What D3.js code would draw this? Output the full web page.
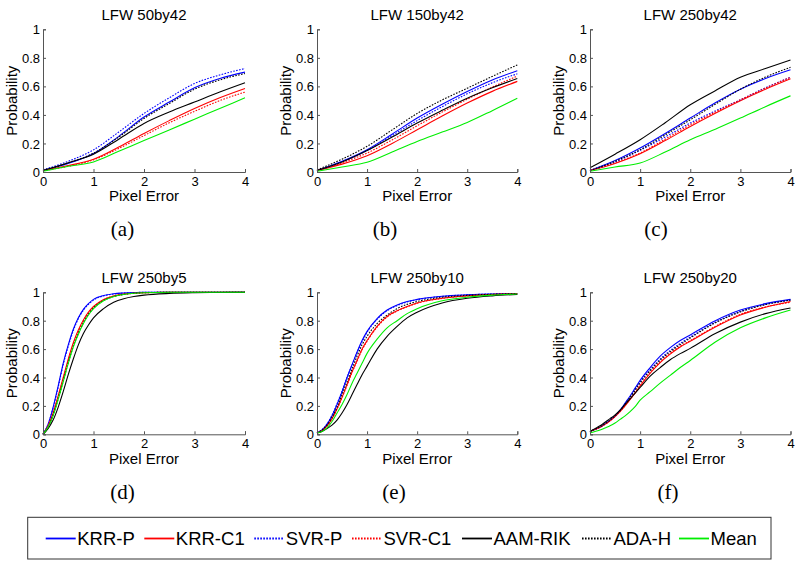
<!DOCTYPE html>
<html>
<head>
<meta charset="utf-8">
<script src="https://cdn.jsdelivr.net/npm/d3@7"></script>
<style>
  html, body { margin: 0; padding: 0; background: #fff; }
  svg { display: block; font-family: "Liberation Sans", Arial, sans-serif; }
</style>
</head>
<body>
<svg id="chart" width="800" height="566"></svg>
<script>
// ---------------- DATA ----------------
const seriesNames  = ["KRR-P", "KRR-C1", "SVR-P", "SVR-C1", "AAM-RIK", "ADA-H", "Mean"];
const seriesColors = ["#0000ff", "#ff0000", "#0000ff", "#ff0000", "#000000", "#000000", "#00ee00"];
const seriesDotted = [false, false, true, true, false, true, false];

const panelTitles = ["LFW 50by42", "LFW 150by42", "LFW 250by42", "LFW 250by5", "LFW 250by10", "LFW 250by20"];
const panelTags   = ["(a)", "(b)", "(c)", "(d)", "(e)", "(f)"];

const xTicks = [0, 1, 2, 3, 4];
const yTicks = [0, 0.2, 0.4, 0.6, 0.8, 1];
const yTickLabels = ["0", "0.2", "0.4", "0.6", "0.8", "1"];

// pixel-error sample points
const xTop    = [0, 0.5, 1, 1.5, 2, 2.5, 3, 3.5, 4];
const xBottom = [0, 0.1, 0.2, 0.3, 0.4, 0.5, 0.6, 0.7, 0.8, 0.9, 1.0, 1.2, 1.4, 1.6, 1.8, 2.0, 2.5, 3, 3.5, 4];

// rows follow seriesNames order
const valsA = [
  [0.01, 0.06, 0.13, 0.25, 0.385, 0.49, 0.59, 0.655, 0.70],
  [0.01, 0.045, 0.09, 0.175, 0.27, 0.36, 0.445, 0.52, 0.585],
  [0.015, 0.075, 0.155, 0.28, 0.41, 0.52, 0.62, 0.68, 0.725],
  [0.01, 0.04, 0.085, 0.165, 0.255, 0.345, 0.425, 0.50, 0.56],
  [0.01, 0.065, 0.125, 0.23, 0.34, 0.42, 0.49, 0.56, 0.625],
  [0.012, 0.063, 0.132, 0.245, 0.375, 0.48, 0.58, 0.645, 0.69],
  [0.005, 0.04, 0.07, 0.145, 0.22, 0.295, 0.37, 0.445, 0.52]
];
const valsB = [
  [0.01, 0.075, 0.156, 0.265, 0.378, 0.475, 0.564, 0.645, 0.71],
  [0.01, 0.055, 0.114, 0.2, 0.296, 0.392, 0.483, 0.565, 0.635],
  [0.01, 0.07, 0.15, 0.255, 0.36, 0.458, 0.548, 0.625, 0.688],
  [0.01, 0.065, 0.133, 0.225, 0.324, 0.42, 0.51, 0.595, 0.672],
  [0.01, 0.07, 0.15, 0.245, 0.343, 0.432, 0.517, 0.59, 0.655],
  [0.015, 0.09, 0.18, 0.295, 0.41, 0.505, 0.587, 0.67, 0.75],
  [0.005, 0.035, 0.068, 0.14, 0.214, 0.28, 0.347, 0.43, 0.517]
];
const valsC = [
  [0.01, 0.08, 0.168, 0.27, 0.378, 0.485, 0.58, 0.655, 0.716],
  [0.01, 0.06, 0.128, 0.22, 0.319, 0.412, 0.5, 0.58, 0.653],
  [0.01, 0.07, 0.152, 0.245, 0.343, 0.428, 0.506, 0.59, 0.664],
  [0.01, 0.065, 0.133, 0.23, 0.331, 0.42, 0.506, 0.588, 0.664],
  [0.03, 0.125, 0.226, 0.345, 0.471, 0.57, 0.664, 0.725, 0.785],
  [0.01, 0.075, 0.156, 0.26, 0.366, 0.475, 0.58, 0.665, 0.734],
  [0.005, 0.035, 0.063, 0.14, 0.226, 0.3, 0.378, 0.458, 0.534]
];
const valsD = [
  [0, 0.07, 0.19, 0.34, 0.5, 0.63, 0.74, 0.82, 0.88, 0.92, 0.95, 0.977, 0.99, 0.995, 0.998, 1, 1, 1, 1, 1],
  [0, 0.06, 0.15, 0.27, 0.4, 0.53, 0.645, 0.735, 0.805, 0.86, 0.9, 0.95, 0.975, 0.988, 0.994, 0.997, 1, 1, 1, 1],
  [0, 0.07, 0.185, 0.33, 0.49, 0.62, 0.73, 0.815, 0.875, 0.915, 0.945, 0.975, 0.988, 0.995, 0.998, 1, 1, 1, 1, 1],
  [0, 0.06, 0.15, 0.265, 0.39, 0.52, 0.635, 0.725, 0.8, 0.855, 0.895, 0.947, 0.973, 0.987, 0.993, 0.997, 1, 1, 1, 1],
  [0, 0.04, 0.1, 0.19, 0.3, 0.42, 0.53, 0.63, 0.71, 0.77, 0.82, 0.885, 0.93, 0.955, 0.97, 0.98, 0.992, 0.997, 0.999, 1],
  [0, 0.05, 0.135, 0.25, 0.375, 0.505, 0.62, 0.71, 0.785, 0.845, 0.888, 0.942, 0.97, 0.985, 0.993, 0.997, 1, 1, 1, 1],
  [0, 0.05, 0.13, 0.245, 0.37, 0.5, 0.615, 0.705, 0.78, 0.84, 0.885, 0.94, 0.97, 0.985, 0.993, 0.997, 1, 1, 1, 1]
];
const valsE = [
  [0.01, 0.03, 0.07, 0.13, 0.21, 0.3, 0.4, 0.49, 0.58, 0.66, 0.725, 0.815, 0.875, 0.91, 0.935, 0.95, 0.972, 0.982, 0.988, 0.99],
  [0.01, 0.025, 0.06, 0.11, 0.18, 0.26, 0.35, 0.44, 0.52, 0.6, 0.66, 0.76, 0.83, 0.87, 0.9, 0.925, 0.958, 0.975, 0.985, 0.99],
  [0.01, 0.032, 0.073, 0.135, 0.215, 0.305, 0.4, 0.488, 0.575, 0.652, 0.718, 0.81, 0.87, 0.906, 0.932, 0.948, 0.971, 0.982, 0.988, 0.99],
  [0.01, 0.025, 0.058, 0.108, 0.177, 0.257, 0.345, 0.435, 0.515, 0.595, 0.655, 0.755, 0.826, 0.868, 0.898, 0.923, 0.957, 0.975, 0.985, 0.99],
  [0.01, 0.02, 0.04, 0.065, 0.1, 0.15, 0.21, 0.28, 0.35, 0.42, 0.48, 0.6, 0.69, 0.76, 0.82, 0.86, 0.925, 0.958, 0.975, 0.985],
  [0.01, 0.03, 0.065, 0.12, 0.19, 0.28, 0.37, 0.46, 0.55, 0.63, 0.69, 0.78, 0.84, 0.885, 0.915, 0.935, 0.965, 0.978, 0.986, 0.99],
  [0.01, 0.02, 0.045, 0.09, 0.15, 0.21, 0.28, 0.36, 0.43, 0.5, 0.57, 0.67, 0.75, 0.8, 0.85, 0.885, 0.94, 0.965, 0.98, 0.988]
];
const valsF = [
  [0.02, 0.035, 0.05, 0.075, 0.1, 0.13, 0.17, 0.22, 0.27, 0.325, 0.38, 0.47, 0.55, 0.61, 0.66, 0.70, 0.80, 0.875, 0.92, 0.95],
  [0.02, 0.035, 0.05, 0.07, 0.095, 0.125, 0.16, 0.2, 0.245, 0.29, 0.34, 0.43, 0.505, 0.565, 0.615, 0.655, 0.755, 0.84, 0.895, 0.935],
  [0.02, 0.035, 0.05, 0.073, 0.098, 0.128, 0.166, 0.214, 0.263, 0.316, 0.37, 0.455, 0.53, 0.59, 0.64, 0.685, 0.79, 0.865, 0.915, 0.945],
  [0.02, 0.035, 0.05, 0.07, 0.095, 0.126, 0.162, 0.203, 0.248, 0.294, 0.345, 0.435, 0.51, 0.57, 0.62, 0.66, 0.76, 0.845, 0.897, 0.93],
  [0.02, 0.04, 0.06, 0.085, 0.11, 0.137, 0.17, 0.21, 0.25, 0.29, 0.33, 0.41, 0.47, 0.525, 0.568, 0.605, 0.71, 0.79, 0.85, 0.89],
  [0.02, 0.036, 0.052, 0.075, 0.1, 0.13, 0.167, 0.212, 0.26, 0.31, 0.362, 0.448, 0.522, 0.582, 0.632, 0.678, 0.785, 0.862, 0.913, 0.945],
  [0.01, 0.02, 0.03, 0.045, 0.06, 0.08, 0.105, 0.13, 0.16, 0.195, 0.24, 0.3, 0.36, 0.415, 0.47, 0.52, 0.65, 0.75, 0.82, 0.875]
];

const panelValues = [valsA, valsB, valsC, valsD, valsE, valsF];
const panelXs = [xTop, xTop, xTop, xBottom, xBottom, xBottom];

// ---------------- LAYOUT ----------------
const colLeft  = [43, 317, 590];
const colRight = [245, 517.3, 790.5];
const rowTop    = [29.3, 292.3];
const rowBottom = [172, 434.3];
const tagX = [[122.5, 385, 656], [122.5, 394, 668]];
const tagY = [230, 493];

const svg = d3.select("#chart");
const AXIS_COLOR = "#555";

panelTitles.forEach((title, i) => {
  const r = Math.floor(i / 3), c = i % 3;
  const x = d3.scaleLinear().domain([0, 4]).range([colLeft[c], colRight[c]]);
  const y = d3.scaleLinear().domain([0, 1]).range([rowBottom[r], rowTop[r]]);
  const g = svg.append("g");

  // series lines
  const xs = panelXs[i];
  const line = d3.line()
    .x((d, k) => x(xs[k]))
    .y(d => y(d))
    .curve(d3.curveMonotoneX);
  panelValues[i].forEach((vals, s) => {
    g.append("path")
      .attr("d", line(vals))
      .attr("fill", "none")
      .attr("stroke", seriesColors[s])
      .attr("stroke-width", 1.1)
      .attr("stroke-dasharray", seriesDotted[s] ? "1.6,1.4" : null);
  });

  // axes (left + bottom, inward ticks like MATLAB)
  const xAxis = d3.axisBottom(x).tickValues(xTicks).tickSize(-3).tickFormat(d3.format("d"));
  const yAxis = d3.axisLeft(y).tickValues(yTicks).tickSize(-3).tickFormat((d, k) => yTickLabels[k]);

  const gx = g.append("g").attr("transform", `translate(0,${rowBottom[r]})`).call(xAxis);
  const gy = g.append("g").attr("transform", `translate(${colLeft[c]},0)`).call(yAxis);
  [gx, gy].forEach(ax => {
    ax.select(".domain").attr("stroke", AXIS_COLOR).attr("stroke-width", 1);
    ax.selectAll(".tick line").attr("stroke", AXIS_COLOR);
    ax.selectAll(".tick text")
      .attr("fill", "#000")
      .style("font-family", '"Liberation Sans", Arial, sans-serif')
      .style("font-size", "13px");
  });
  gx.selectAll(".tick text").attr("y", 9).attr("dy", "0.35em");
  gy.selectAll(".tick text").attr("x", -3).attr("dy", "0.35em");

  const cx = (colLeft[c] + colRight[c]) / 2;
  const cy = (rowTop[r] + rowBottom[r]) / 2;

  // title
  g.append("text")
    .attr("x", cx).attr("y", rowTop[r] - 15).attr("dy", "0.35em")
    .attr("text-anchor", "middle")
    .style("font-size", "15px")
    .text(title);

  // x label
  g.append("text")
    .attr("x", cx).attr("y", rowBottom[r] + 24).attr("dy", "0.36em")
    .attr("text-anchor", "middle")
    .style("font-size", "15px")
    .text("Pixel Error");

  // y label
  g.append("text")
    .attr("transform", `translate(${colLeft[c] - 31},${cy}) rotate(-90)`)
    .attr("dy", "0.36em")
    .attr("text-anchor", "middle")
    .style("font-size", "15px")
    .text("Probability");

  // sub-figure tag
  g.append("text")
    .attr("x", tagX[r][c]).attr("y", tagY[r]).attr("dy", "0.3em")
    .attr("text-anchor", "middle")
    .style("font-family", '"Liberation Serif", "DejaVu Serif", serif')
    .style("font-size", "21px")
    .text(panelTags[i]);
});

// ---------------- LEGEND ----------------
const legendBox = { x0: 27.7, x1: 771, y0: 517.3, y1: 559 };
const legendLineStart = [45.7, 144.3, 254.3, 352, 462, 582, 679];
const legendY = 538.5;
const lg = svg.append("g");
lg.append("rect")
  .attr("x", legendBox.x0).attr("y", legendBox.y0)
  .attr("width", legendBox.x1 - legendBox.x0).attr("height", legendBox.y1 - legendBox.y0)
  .attr("fill", "#fff").attr("stroke", "#333").attr("stroke-width", 1);
seriesNames.forEach((name, s) => {
  const lx = legendLineStart[s];
  lg.append("line")
    .attr("x1", lx).attr("x2", lx + 30)
    .attr("y1", legendY).attr("y2", legendY)
    .attr("stroke", seriesColors[s])
    .attr("stroke-width", 1.8)
    .attr("stroke-dasharray", seriesDotted[s] ? "1.6,1.4" : null);
  lg.append("text")
    .attr("x", lx + 31.5).attr("y", legendY).attr("dy", "0.36em")
    .style("font-size", "18.5px")
    .text(name);
});
</script>
</body>
</html>
